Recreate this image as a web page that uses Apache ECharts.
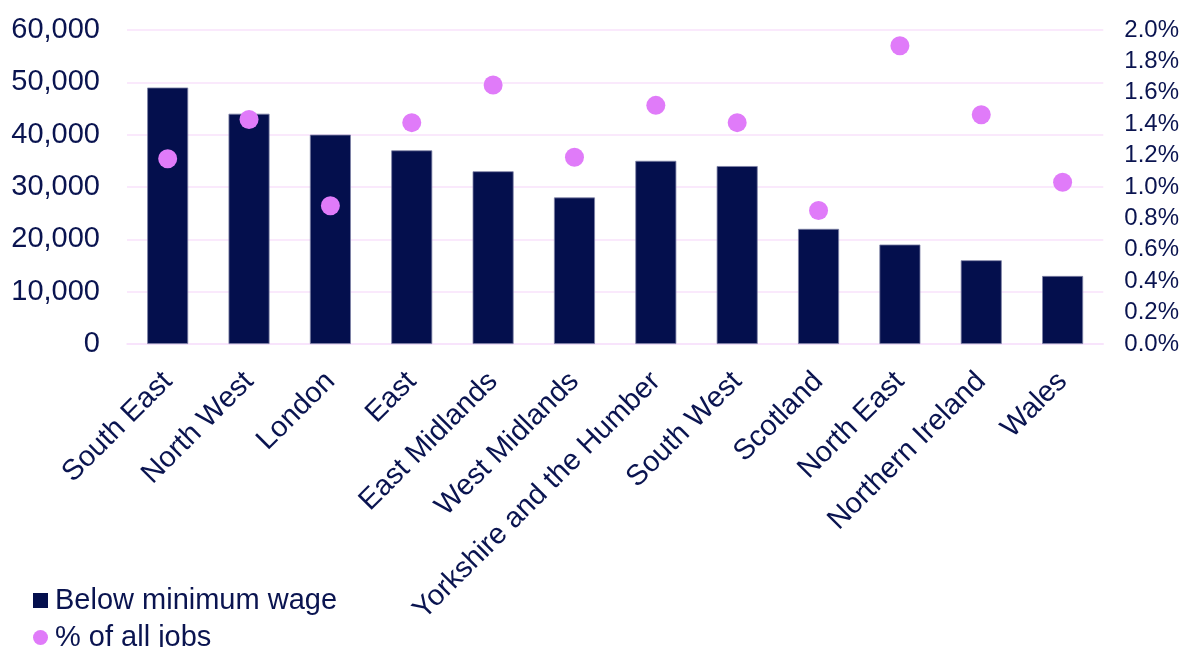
<!DOCTYPE html>
<html>
<head>
<meta charset="utf-8">
<script src="https://cdn.jsdelivr.net/npm/echarts@6/dist/echarts.min.js"></script>
<style>
html,body{margin:0;padding:0;background:#fff;}
#chart{width:1182px;height:647px;}
</style>
</head>
<body>
<div id="chart"></div>
<script>
const categories = ["South East","North West","London","East","East Midlands","West Midlands","Yorkshire and the Humber","South West","Scotland","North East","Northern Ireland","Wales"];
const belowMinWage = [49000,44000,40000,37000,33000,28000,35000,34000,22000,19000,16000,13000];
const pctOfJobs = [1.18,1.43,0.88,1.41,1.65,1.19,1.52,1.41,0.85,1.90,1.46,1.03];
const seriesNames = ["Below minimum wage","% of all jobs"];

const navy = '#040F4D';
const pink = '#E07BF9';
const textColor = '#0A1450';
const gridColor = '#F8E2FB';
const fontFamily = '"Liberation Sans", Arial, sans-serif';

const chart = echarts.init(document.getElementById('chart'));
chart.setOption({
  animation: false,
  backgroundColor: '#fff',
  textStyle: { fontFamily: fontFamily, color: textColor },
  grid: { left: 127, right: 77, top: 30, bottom: 303, containLabel: false },
  legend: {
    orient: 'vertical',
    left: 33,
    top: 586,
    height: 120,
    padding: 0,
    itemWidth: 15,
    itemHeight: 15,
    itemGap: 8,
    itemStyle: { borderWidth: 0 },
    textStyle: { fontSize: 29, color: textColor, fontFamily: fontFamily, padding: [0, 0, 0, 2] },
    data: [
      { name: seriesNames[0], icon: 'rect' },
      { name: seriesNames[1], icon: 'circle' }
    ]
  },
  xAxis: {
    type: 'category',
    data: categories,
    axisLine: { show: true, lineStyle: { color: gridColor, width: 1.5 } },
    axisTick: { show: false },
    axisLabel: {
      rotate: 45,
      interval: 0,
      margin: 33,
      fontSize: 29,
      color: textColor,
      fontFamily: fontFamily
    }
  },
  yAxis: [
    {
      type: 'value',
      min: 0, max: 60000, interval: 10000,
      axisLine: { show: false },
      axisTick: { show: false },
      splitLine: { show: true, lineStyle: { color: gridColor, width: 1.5 } },
      axisLabel: {
        margin: 27,
        fontSize: 29,
        color: textColor,
        fontFamily: fontFamily,
        formatter: v => v.toLocaleString('en-US')
      }
    },
    {
      type: 'value',
      min: 0, max: 2.0, interval: 0.2,
      position: 'right',
      axisLine: { show: false },
      axisTick: { show: false },
      splitLine: { show: false },
      axisLabel: {
        margin: 21,
        fontSize: 24,
        color: textColor,
        fontFamily: fontFamily,
        formatter: v => v.toFixed(1) + '%'
      }
    }
  ],
  series: [
    {
      name: seriesNames[0],
      type: 'bar',
      data: belowMinWage,
      barWidth: 41,
      itemStyle: { color: navy, borderColor: '#7d82a6', borderWidth: 0.8 }
    },
    {
      name: seriesNames[1],
      type: 'scatter',
      yAxisIndex: 1,
      data: pctOfJobs,
      symbol: 'circle',
      symbolSize: 19,
      itemStyle: { color: pink, opacity: 1 },
      z: 5
    }
  ]
});
</script>
</body>
</html>
